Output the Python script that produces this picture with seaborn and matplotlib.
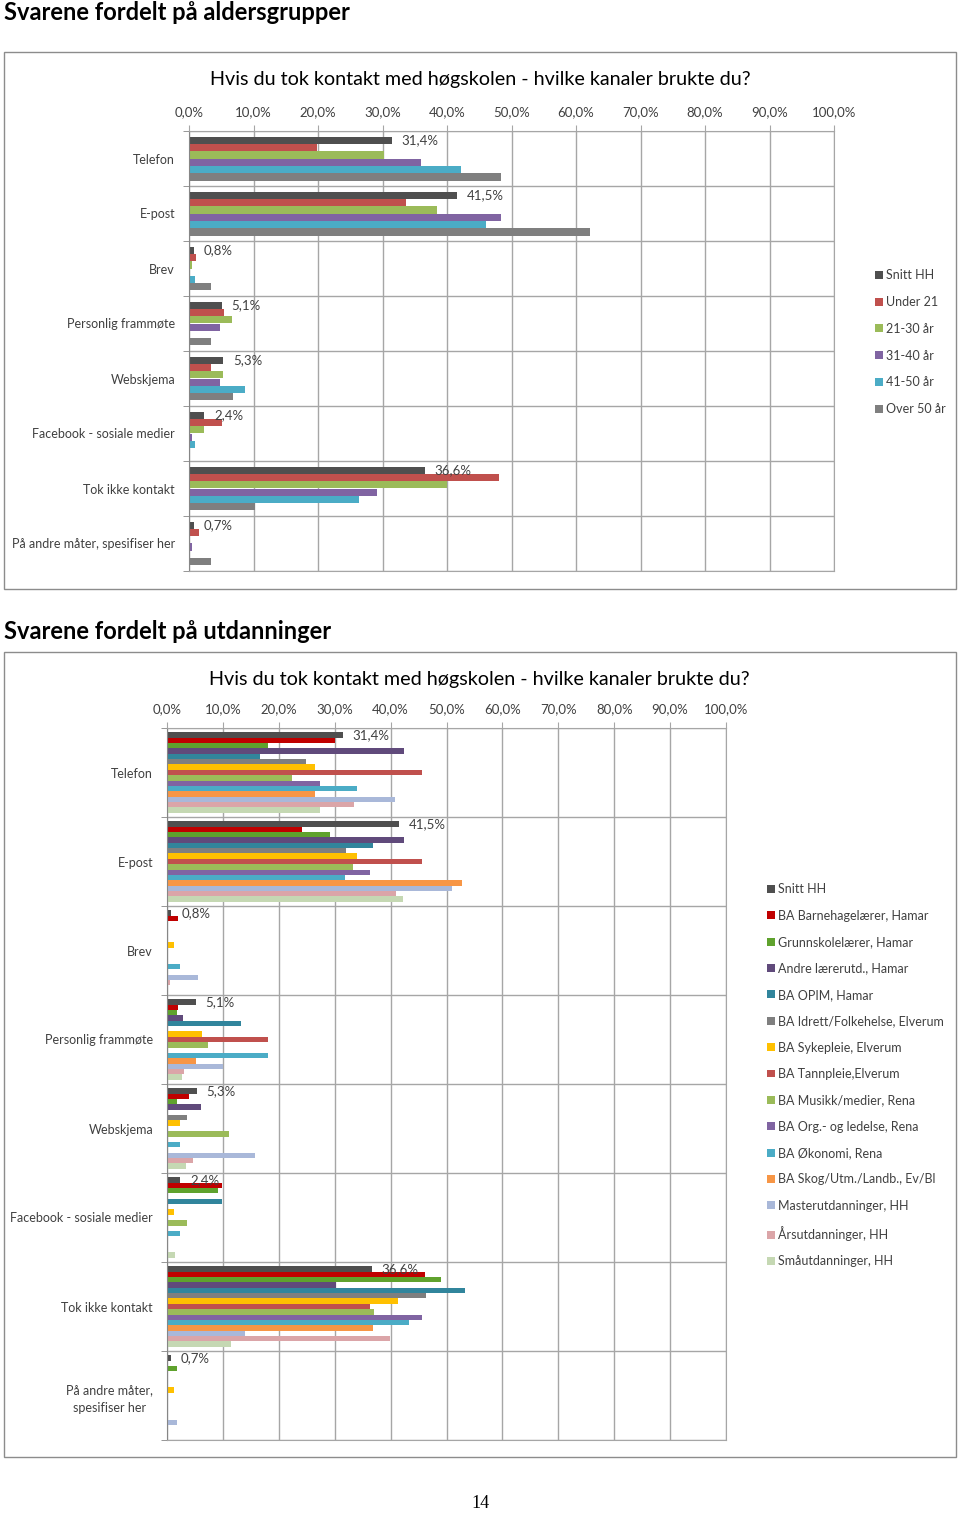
import numpy as np
import pandas as pd
import seaborn as sns
import matplotlib.pyplot as plt
from matplotlib.patches import Rectangle

# kanaler (kategorier)
kanaler = ["Telefon", "E-post", "Brev", "Personlig frammøte", "Webskjema",
           "Facebook - sosiale medier", "Tok ikke kontakt",
           "På andre måter, spesifiser her"]
kanaler_etiketter_2 = ["Telefon", "E-post", "Brev", "Personlig frammøte", "Webskjema",
                       "Facebook - sosiale medier", "Tok ikke kontakt",
                       "På andre måter,\nspesifiser her"]

# aldersgrupper (prosent)
alder = ["Snitt HH", "Under 21", "21-30 år", "31-40 år", "41-50 år", "Over 50 år"]
snitt_hh = [31.4, 41.5, 0.8, 5.1, 5.3, 2.4, 36.6, 0.7]
under_21 = [19.9, 33.6, 1.1, 5.5, 3.4, 5.1, 48.0, 1.6]
alder_21_30 = [30.2, 38.5, 0.5, 6.6, 5.2, 2.3, 40.0, 0.0]
alder_31_40 = [36.0, 48.3, 0.0, 4.8, 4.8, 0.4, 29.2, 0.5]
alder_41_50 = [42.2, 46.1, 0.9, 0.0, 8.7, 0.9, 26.4, 0.0]
over_50 = [48.3, 62.1, 3.4, 3.4, 6.8, 0.0, 10.3, 3.4]

# utdanninger (prosent)
utdanninger = ["Snitt HH", "BA Barnehagelærer, Hamar", "Grunnskolelærer, Hamar",
               "Andre lærerutd., Hamar", "BA OPIM, Hamar",
               "BA Idrett/Folkehelse, Elverum", "BA Sykepleie, Elverum",
               "BA Tannpleie,Elverum", "BA Musikk/medier, Rena",
               "BA Org.- og ledelse, Rena", "BA Økonomi, Rena",
               "BA Skog/Utm./Landb., Ev/Bl", "Masterutdanninger, HH",
               "Årsutdanninger, HH", "Småutdanninger, HH"]
barnehage = [30.0, 24.1, 1.9, 1.9, 3.9, 9.9, 46.1, 0.0]
grunnskole = [18.1, 29.1, 0.0, 1.8, 1.8, 9.1, 49.1, 1.8]
andre_laerer = [42.4, 42.4, 0.0, 2.9, 6.0, 0.0, 30.3, 0.0]
opim = [16.6, 36.8, 0.0, 13.3, 0.0, 9.9, 53.3, 0.0]
idrett = [24.9, 32.1, 0.0, 0.0, 3.5, 0.0, 46.4, 0.0]
sykepleie = [26.4, 33.9, 1.2, 6.2, 2.4, 1.2, 41.4, 1.2]
tannpleie = [45.7, 45.7, 0.0, 18.1, 0.0, 0.0, 36.4, 0.0]
musikk = [22.3, 33.3, 0.0, 7.3, 11.1, 3.6, 37.0, 0.0]
org_ledelse = [27.3, 36.4, 0.0, 0.0, 0.0, 0.0, 45.7, 0.0]
okonomi = [34.0, 31.8, 2.3, 18.1, 2.3, 2.3, 43.3, 0.0]
skog = [26.4, 52.7, 0.0, 5.2, 0.0, 0.0, 36.8, 0.0]
master = [40.8, 51.0, 5.5, 10.1, 15.8, 0.0, 13.9, 1.8]
arsutd = [33.5, 41.0, 0.6, 3.0, 4.7, 0.0, 39.9, 0.0]
smautd = [27.4, 42.3, 0.0, 2.6, 3.4, 1.4, 11.4, 0.0]

farger_alder = ["#4f4f4f", "#c0504d", "#9bbb59", "#8064a2", "#4bacc6", "#7f7f7f"]
farger_utd = ["#4f4f4f", "#c00000", "#5fa22d", "#604a7b", "#31859c", "#7f7f7f",
              "#ffc000", "#c0504d", "#9bbb59", "#8064a2", "#4bacc6", "#f79646",
              "#a9b8d9", "#dba5a8", "#c5d8b3"]

GRID = "#a6a6a6"
TXT = "#404040"


def long_df(groups, series):
    rows = []
    for g, vals in zip(groups, series):
        for k, v in zip(kanaler, vals):
            rows.append({"kanal": k, "gruppe": g, "andel": v})
    return pd.DataFrame(rows)


def fx(px):
    return px / 960


def fy(py):
    return 1 - py / 1513


def draw_chart(ax, df, groups, colors, width, ylabels):
    sns.barplot(data=df, x="andel", y="kanal", hue="gruppe", order=kanaler,
                hue_order=groups, palette=colors, orient="h", width=width,
                saturation=1, linewidth=0, errorbar=None, ax=ax)
    ax.set_xlabel("")
    ax.set_ylabel("")
    ax.set_xlim(0, 100)
    ax.set_ylim(len(kanaler) - 0.5, -0.5)
    ax.set_xticks(range(0, 101, 10))
    ax.set_xticklabels([f"{v:.1f}".replace(".", ",") + "%" for v in range(0, 101, 10)])
    ax.xaxis.tick_top()
    ax.set_yticks(range(len(kanaler)))
    ax.set_yticklabels(ylabels)
    ax.set_yticks(np.arange(-0.5, len(kanaler), 1), minor=True)
    ax.grid(axis="x", which="major", color=GRID, lw=1)
    ax.grid(axis="y", which="minor", color=GRID, lw=1)
    ax.set_axisbelow(True)
    for s in ax.spines.values():
        s.set_color(GRID)
    ax.spines["left"].set_color("#868686")
    ax.tick_params(axis="x", which="major", length=4, color=GRID, pad=5,
                   labelsize=9.5, labelcolor=TXT)
    ax.tick_params(axis="y", which="major", length=0, pad=10,
                   labelsize=9, labelcolor=TXT)
    ax.tick_params(axis="y", which="minor", length=4, color="#868686")
    for lbl in ax.get_yticklabels():
        lbl.set_multialignment("center")
        lbl.set_linespacing(1.5)
    ax.bar_label(ax.containers[0],
                 labels=[f"{v:.1f}".replace(".", ",") + "%" for v in snitt_hh],
                 padding=7, fontsize=9.5, color=TXT)
    handles, labels = ax.get_legend_handles_labels()
    ax.get_legend().remove()
    return handles, labels


plt.rcParams["font.family"] = ["Lato", "DejaVu Sans"]

fig = plt.figure(figsize=(9.6, 15.13), dpi=100)

# overskrifter og rammer
fig.text(fx(4), fy(12), "Svarene fordelt på aldersgrupper", fontsize=17,
         fontweight="bold", va="center", ha="left", color="black")
fig.text(fx(4), fy(632), "Svarene fordelt på utdanninger", fontsize=17,
         fontweight="bold", va="center", ha="left", color="black")
fig.patches.append(Rectangle((fx(4), fy(589)), fx(952), 537 / 1513, fill=False,
                             edgecolor="#8c8c8c", lw=1, transform=fig.transFigure))
fig.patches.append(Rectangle((fx(4), fy(1457)), fx(952), 805 / 1513, fill=False,
                             edgecolor="#8c8c8c", lw=1, transform=fig.transFigure))
fig.text(fx(480), fy(1504), "14", fontsize=13, family="Liberation Serif",
         ha="center", va="center", color="black")

tittel = "Hvis du tok kontakt med høgskolen - hvilke kanaler brukte du?"

# diagram 1: aldersgrupper
ax1 = fig.add_axes([fx(189), fy(571), (834 - 189) / 960, (571 - 131) / 1513])
df1 = long_df(alder, [snitt_hh, under_21, alder_21_30, alder_31_40, alder_41_50, over_50])
h1, l1 = draw_chart(ax1, df1, alder, farger_alder, 0.8, kanaler)
fig.text(fx(480), fy(80), tittel, fontsize=14.2, ha="center", va="center", color="black")
fig.legend(h1, l1, loc="upper left", bbox_to_anchor=(fx(864), fy(258)),
           bbox_transform=fig.transFigure, frameon=False, fontsize=9,
           handlelength=0.6, handleheight=0.6, handletextpad=0.3,
           labelspacing=1.18, labelcolor=TXT)

# diagram 2: utdanninger
ax2 = fig.add_axes([fx(167), fy(1440), (726 - 167) / 960, (1440 - 728) / 1513])
df2 = long_df(utdanninger, [snitt_hh, barnehage, grunnskole, andre_laerer, opim, idrett,
                            sykepleie, tannpleie, musikk, org_ledelse, okonomi, skog,
                            master, arsutd, smautd])
h2, l2 = draw_chart(ax2, df2, utdanninger, farger_utd, 0.9, kanaler_etiketter_2)
fig.text(fx(479), fy(680), tittel, fontsize=14.2, ha="center", va="center", color="black")
fig.legend(h2, l2, loc="upper left", bbox_to_anchor=(fx(756), fy(872)),
           bbox_transform=fig.transFigure, frameon=False, fontsize=9,
           handlelength=0.6, handleheight=0.6, handletextpad=0.3,
           labelspacing=1.15, labelcolor=TXT)

fig.savefig("out.png", dpi=100)
